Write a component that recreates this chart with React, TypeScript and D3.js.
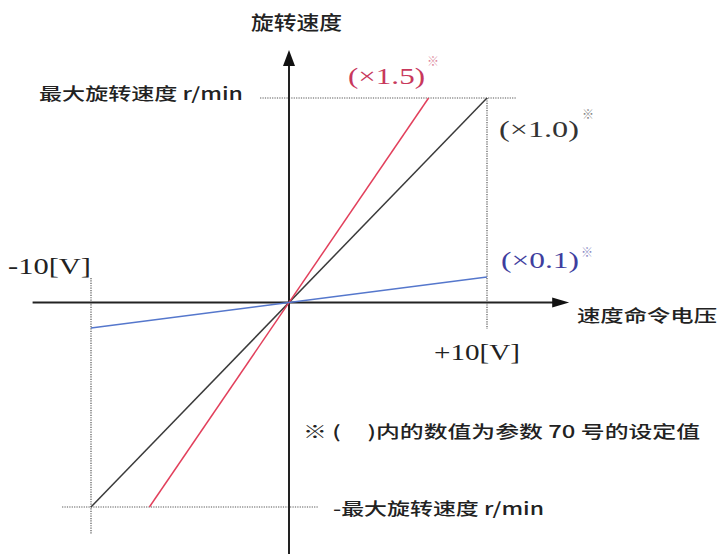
import React from "react";
import * as d3 from "d3";

// ---- data ----
const xDomain = [-10, 10]; // command voltage [V]
const yDomain = [-1, 1]; // normalised rotation speed (±max)
const gainNames = ["×1.0", "×1.5", "×0.1"];
const gainX = [
  [-10, 10],
  [-7.05, 7.05],
  [-10, 10],
];
const gainY = [
  [-1, 1],
  [-1, 1],
  [-0.125, 0.125],
];
const gainColors = ["#3a3a3a", "#e2405c", "#5577cc"];
const labelColors = ["#333333", "#c8385c", "#3e3e9e"];
const xAxisExtent = [-12.95, 14.15];
const yAxisExtent = [-1.235, 1.235];
const guideTopX = [-1.46, 11.46];
const guideBottomX = [-11.46, 1.46];
const guideRightY = [-0.13, 1];
const guideLeftY = [-1.13, 0.12];

const yTitle = "旋转速度";
const xTitle = "速度命令电压";
const maxLabel = "最大旋转速度 r/min";
const minLabel = "-最大旋转速度 r/min";
const noteLabel = "※ (\u00a0\u00a0\u00a0\u00a0\u00a0)内的数值为参数 70 号的设定值";
const vMinLabel = "-10[V]";
const vMaxLabel = "+10[V]";

const W = 720;
const H = 554;

export default function App() {
  const x = d3.scaleLinear().domain(xDomain).range([91, 487]);
  const y = d3.scaleLinear().domain(yDomain).range([507, 98]);
  const line = d3
    .line<[number, number]>()
    .x((d) => x(d[0]))
    .y((d) => y(d[1]));

  const cjk = "'Noto Sans CJK SC', 'Noto Sans', sans-serif";
  const serif = "'Liberation Serif', 'DejaVu Serif', serif";
  const ox = x(0);
  const oy = y(0);

  const labelPos = [
    { x: 499, y: 137, len: 80, sx: 582, sy: 119 },
    { x: 348, y: 84, len: 77, sx: 427, sy: 66 },
    { x: 501, y: 268, len: 78, sx: 581, sy: 257 },
  ];

  return (
    <svg
      width={W}
      height={H}
      style={{ position: "absolute", left: 0, top: 0, background: "#fff" }}
    >
      <rect x={0} y={0} width={W} height={H} fill="#fff" />
      {/* dotted guides */}
      <g stroke="#555" strokeWidth={1.2} strokeDasharray="1.2,1.2" fill="none">
        <line x1={x(guideTopX[0])} x2={x(guideTopX[1])} y1={y(1)} y2={y(1)} />
        <line x1={x(guideBottomX[0])} x2={x(guideBottomX[1])} y1={y(-1)} y2={y(-1)} />
        <line x1={x(10)} x2={x(10)} y1={y(guideRightY[1])} y2={y(guideRightY[0])} />
        <line x1={x(-10)} x2={x(-10)} y1={y(guideLeftY[1])} y2={y(guideLeftY[0])} />
      </g>
      {/* axes */}
      <g stroke="#222" strokeWidth={2} fill="none">
        <line x1={x(xAxisExtent[0])} x2={x(xAxisExtent[1]) - 14} y1={oy} y2={oy} />
        <line x1={ox} x2={ox} y1={y(yAxisExtent[0])} y2={y(yAxisExtent[1]) + 14} />
      </g>
      <path d={`M${x(xAxisExtent[1])},${oy} l-17,-5 l0,10 z`} fill="#111" />
      <path d={`M${ox},${y(yAxisExtent[1])} l-6,16 l12,0 z`} fill="#111" />
      {/* gain lines */}
      {gainNames.map((n, i) => (
        <path
          key={n}
          d={line([
            [gainX[i][0], gainY[i][0]],
            [gainX[i][1], gainY[i][1]],
          ]) as string}
          stroke={gainColors[i]}
          strokeWidth={1.5}
          fill="none"
        />
      ))}
      {/* gain labels */}
      {gainNames.map((n, i) => (
        <g key={"l" + n}>
          <text
            x={labelPos[i].x}
            y={labelPos[i].y}
            fontFamily={serif}
            fontSize={24}
            fill={labelColors[i]}
            textLength={labelPos[i].len}
            lengthAdjust="spacingAndGlyphs"
          >
            {"(" + n + ")"}
          </text>
          <text
            x={labelPos[i].sx}
            y={labelPos[i].sy}
            fontFamily={cjk}
            fontSize={12}
            fill={labelColors[i]}
            opacity={0.6}
          >
            ※
          </text>
        </g>
      ))}
      {/* voltage labels */}
      <text x={8} y={274} fontFamily={serif} fontSize={24} fill="#222" textLength={83} lengthAdjust="spacingAndGlyphs">
        {vMinLabel}
      </text>
      <text x={434} y={360} fontFamily={serif} fontSize={24} fill="#222" textLength={86} lengthAdjust="spacingAndGlyphs">
        {vMaxLabel}
      </text>
      {/* CJK labels */}
      <g fontFamily={cjk} fill="#222" fontWeight={500}>
        <text x={251} y={30} fontSize={19} textLength={91} lengthAdjust="spacingAndGlyphs">
          {yTitle}
        </text>
        <text x={39} y={100} fontSize={17} textLength={204} lengthAdjust="spacingAndGlyphs">
          {maxLabel}
        </text>
        <text x={577} y={322} fontSize={17} textLength={140} lengthAdjust="spacingAndGlyphs">
          {xTitle}
        </text>
        <text x={303} y={438} fontSize={17} textLength={397} lengthAdjust="spacingAndGlyphs" style={{ whiteSpace: "pre" }}>
          {noteLabel}
        </text>
        <text x={333} y={515} fontSize={17} textLength={211} lengthAdjust="spacingAndGlyphs">
          {minLabel}
        </text>
      </g>
    </svg>
  );
}
